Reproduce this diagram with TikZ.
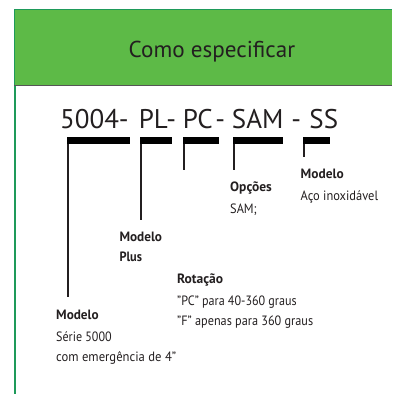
\documentclass[tikz,border=0pt]{standalone}
\usepackage{graphicx}
\usepackage{fontspec}
\setmainfont{PT Sans}
\newcommand{\fitw}[2]{\resizebox{#1pt}{\height}{#2}}
\newcommand{\putat}[2]{\rlap{\hspace*{#1pt}#2}}
\newcommand{\hyat}[1]{\rlap{\hspace*{#1pt}\makebox[0pt]{-}}}
\definecolor{hdrfill}{HTML}{5DBA47}
\definecolor{hdredge}{HTML}{1E9A5A}
\definecolor{hdrbottom}{HTML}{555555}
\definecolor{txt}{HTML}{231F20}
\begin{document}
\begin{tikzpicture}[x=1pt,y=-1pt,
  bar/.style={fill=black,draw=none},
  tick/.style={draw=txt,line width=2pt},
  lblhead/.style={anchor=base west,inner sep=0pt,text=txt,font=\bfseries\fontsize{13.5}{15}\selectfont},
  lblbody/.style={anchor=base west,inner sep=0pt,text=txt,font=\fontsize{13.5}{15}\selectfont}]
\useasboundingbox (0,0) rectangle (392,394);
% header
\fill[hdrfill] (14,9) rectangle (392,85);
\draw[hdredge,line width=1.2pt] (14.6,85) -- (14.6,9.6) -- (392,9.6);
\draw[hdrbottom,line width=1.2pt] (14,85.4) -- (392,85.4);
\draw[hdredge,line width=2pt] (15,86) -- (15,394);
\node[anchor=base west,inner sep=0pt,text=txt,font=\fontsize{23}{26}\selectfont] (title) at (128.5,57) {\fitw{166.5}{Como especificar}};
% code: 5004- PL-PC-SAM - SS
\node[anchor=base west,inner sep=0pt,text=txt,font=\fontsize{27}{30}\selectfont] (code) at (60,128)
  {\makebox[277pt][l]{\putat{0}{5004}\hyat{63.5}\putat{78.6}{PL}\hyat{111}\putat{122.6}{PC}\hyat{160}\putat{171.8}{SAM}\hyat{236}\putat{249.3}{SS}}};
% bars
\fill[bar] (67,137) rectangle (130,144);
\fill[bar] (140,137) rectangle (172,144);
\fill[bar] (183,137) rectangle (219,144);
\fill[bar] (233,137) rectangle (283,144);
\fill[bar] (303,137) rectangle (330,144);
\coordinate (b1) at (68,144); \coordinate (e1) at (68,297);
\coordinate (b2) at (141,144); \coordinate (e2) at (141,220);
\coordinate (b3) at (184,144); \coordinate (e3) at (184,170);
\coordinate (b4) at (234,144); \coordinate (e4) at (234,170);
\coordinate (b5) at (304,144); \coordinate (e5) at (304,157);
\draw[tick] (b1) -- (e1);
\draw[tick] (b2) -- (e2);
\draw[tick] (b3) -- (e3);
\draw[tick] (b4) -- (e4);
\draw[tick] (b5) -- (e5);
% labels
\node[lblhead] (m1) at (56,319.5) {\fitw{42.5}{Modelo}};
\node[lblbody] (m1a) at (56,341.5) {\fitw{55.5}{Série 5000}};
\node[lblbody] (m1b) at (56,361.5) {\fitw{120}{com emergência de 4”}};
\node[lblhead] (m2) at (119.3,241.5) {\fitw{42.5}{Modelo}};
\node[lblhead] (m2a) at (119.3,261) {\fitw{22.5}{Plus}};
\node[lblhead] (m3) at (177,283.5) {\fitw{46}{Rotação}};
\node[lblbody] (m3a) at (177,305.5) {\fitw{119.5}{”PC” para 40-360 graus}};
\node[lblbody] (m3b) at (177,325.5) {\fitw{136}{”F” apenas para 360 graus}};
\node[lblhead] (m4) at (230,191.5) {\fitw{41.7}{Opções}};
\node[lblbody] (m4a) at (230,213) {\fitw{26.7}{SAM;}};
\node[lblhead] (m5) at (300.5,178.5) {\fitw{43}{Modelo}};
\node[lblbody] (m5a) at (300.5,200) {\fitw{77.5}{Aço inoxidável}};
\end{tikzpicture}
\end{document}
